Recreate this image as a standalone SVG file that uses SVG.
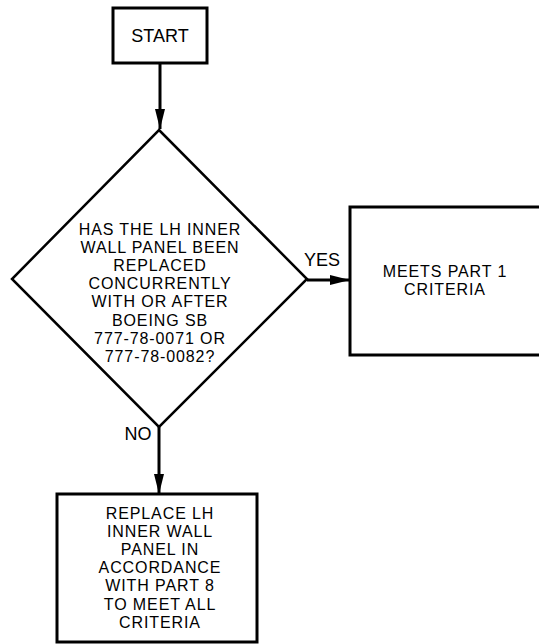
<svg xmlns="http://www.w3.org/2000/svg" width="539" height="644" viewBox="0 0 539 644">
  <style>
    .box { fill: #fff; stroke: #000; stroke-width: 3; }
    .dia { fill: #fff; stroke: #000; stroke-width: 2.5; stroke-linejoin: miter; }
    .wire { fill: none; stroke: #000; stroke-width: 3; }
    text { font-family: "Liberation Sans", Arial, sans-serif; font-size: 18px; fill: #000; text-anchor: middle; }
    text.ml { font-size: 16px; letter-spacing: 0.9px; }
  </style>
  <defs>
    <marker id="arrow" viewBox="0 0 20 10" refX="20" refY="5" markerWidth="20" markerHeight="10" markerUnits="userSpaceOnUse" orient="auto">
      <path d="M0,0 L20,5 L0,10 Z" fill="#000"/>
    </marker>
  </defs>
  <rect x="0" y="0" width="539" height="644" fill="#fff"/>

  <g id="connectors">
    <line class="wire" x1="160" y1="63" x2="160" y2="129" marker-end="url(#arrow)"/>
    <line class="wire" x1="307" y1="280" x2="350" y2="280" marker-end="url(#arrow)"/>
    <line class="wire" x1="159" y1="427" x2="159" y2="494" marker-end="url(#arrow)"/>
    <text x="322" y="266">YES</text>
    <text x="138" y="440">NO</text>
  </g>

  <g id="start">
    <rect class="box" x="113" y="8" width="94" height="55"/>
    <text x="160" y="42">START</text>
  </g>

  <g id="decision">
    <polygon class="dia" points="159,130 307,279 159,427 12,279"/>
    <text class="ml"><tspan x="160" y="235">HAS THE LH INNER</tspan><tspan x="160" y="253.1">WALL PANEL BEEN</tspan><tspan x="160" y="271.2">REPLACED</tspan><tspan x="160" y="289.3">CONCURRENTLY</tspan><tspan x="160" y="307.4">WITH OR AFTER</tspan><tspan x="160" y="325.5">BOEING SB</tspan><tspan x="160" y="343.6">777-78-0071 OR</tspan><tspan x="160" y="361.7">777-78-0082?</tspan></text>
  </g>

  <g id="meets">
    <rect class="box" x="350" y="207" width="200" height="148"/>
    <text class="ml"><tspan x="445" y="277">MEETS PART 1</tspan><tspan x="445" y="295.1">CRITERIA</tspan></text>
  </g>

  <g id="replace">
    <rect class="box" x="57" y="494" width="200" height="148"/>
    <text class="ml"><tspan x="160" y="519">REPLACE LH</tspan><tspan x="160" y="537.1">INNER WALL</tspan><tspan x="160" y="555.2">PANEL IN</tspan><tspan x="160" y="573.3">ACCORDANCE</tspan><tspan x="160" y="591.4">WITH PART 8</tspan><tspan x="160" y="609.5">TO MEET ALL</tspan><tspan x="160" y="627.6">CRITERIA</tspan></text>
  </g>
</svg>
